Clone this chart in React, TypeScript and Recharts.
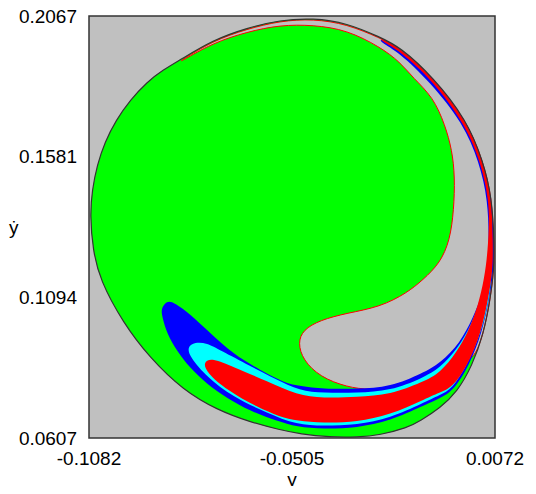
import React from "react";
import { ComposedChart, Scatter, XAxis, YAxis, ReferenceArea } from "recharts";

const xTicks = [-0.1082, -0.0505, 0.0072];
const yTicks = [0.0607, 0.1094, 0.1581, 0.2067];

type Pt = { x: number; y: number };
const pts = (a: number[][]): Pt[] => a.map(([x, y]) => ({ x, y }));

// boundary of the region that was sampled (black curve)
const outerEdge = pts([
  [-0.1079, 0.1379], [-0.1073, 0.1465], [-0.1059, 0.1551], [-0.1037, 0.1631], [-0.1005, 0.1707],
  [-0.0965, 0.1776], [-0.0917, 0.1839], [-0.0872, 0.188], [-0.0823, 0.1915], [-0.073, 0.1984],
  [-0.0633, 0.2026], [-0.0539, 0.2053], [-0.0445, 0.206], [-0.0349, 0.2043], [-0.0255, 0.1994],
  [-0.0198, 0.196], [-0.0104, 0.1856], [-0.0008, 0.1707], [0.0038, 0.1565], [0.0063, 0.1441],
  [0.007, 0.1282], [0.0069, 0.1188], [0.0058, 0.1084], [0.004, 0.097], [0.0007, 0.0856],
  [-0.0036, 0.0766], [-0.0084, 0.0711], [-0.0141, 0.0666], [-0.0178, 0.0642], [-0.0255, 0.0617],
  [-0.032, 0.061], [-0.0397, 0.061], [-0.0482, 0.0621], [-0.0539, 0.0635], [-0.0624, 0.0662],
  [-0.0718, 0.0704], [-0.0815, 0.0773], [-0.0909, 0.0884], [-0.0985, 0.1005], [-0.1051, 0.1154],
  [-0.1071, 0.1257],
]);

// grey basin: thin gap under the rim plus the tongue at lower right
const grayBasin = pts([
  [-0.0823, 0.1911], [-0.073, 0.1981], [-0.0633, 0.2022], [-0.0539, 0.205], [-0.0445, 0.2057],
  [-0.0349, 0.2039], [-0.0255, 0.1991], [-0.0198, 0.1956], [-0.0104, 0.1853], [-0.0008, 0.1704],
  [0.0038, 0.1565], [0.0063, 0.1441], [0.0069, 0.1282], [0.0069, 0.1188], [0.0058, 0.1084],
  [0.004, 0.097], [0.0007, 0.0856], [-0.0084, 0.0866], [-0.0141, 0.0818], [-0.0218, 0.0783],
  [-0.0283, 0.0773], [-0.0349, 0.0783], [-0.0425, 0.0818], [-0.0474, 0.0877], [-0.0488, 0.0936],
  [-0.0474, 0.0981], [-0.0425, 0.1015], [-0.0349, 0.1039], [-0.0255, 0.106], [-0.0178, 0.1109],
  [-0.0133, 0.1154], [-0.0084, 0.1212], [-0.0056, 0.1292], [-0.0045, 0.1396], [-0.0042, 0.151],
  [-0.005, 0.1603], [-0.007, 0.169], [-0.0104, 0.1787], [-0.0161, 0.1853], [-0.0198, 0.1908],
  [-0.0255, 0.196], [-0.0349, 0.2019], [-0.0445, 0.2036], [-0.0539, 0.2036], [-0.0633, 0.2012],
  [-0.073, 0.1974], [-0.0823, 0.1908],
]);

const blueBand = pts([
  [-0.0866, 0.1074], [-0.0855, 0.1081], [-0.0838, 0.1074], [-0.0795, 0.1036], [-0.0738, 0.097],
  [-0.0673, 0.0898], [-0.0596, 0.0842], [-0.0525, 0.0797], [-0.0482, 0.0787], [-0.0417, 0.0777],
  [-0.032, 0.0777], [-0.0226, 0.0783], [-0.0133, 0.0832], [-0.0084, 0.0866], [-0.0027, 0.0936],
  [0.0009, 0.1022], [0.0038, 0.1109], [0.0049, 0.1188], [0.0055, 0.1282], [0.0052, 0.143],
  [0.0027, 0.1562], [-0.0019, 0.1697], [-0.0113, 0.1839], [-0.0201, 0.1942], [-0.0255, 0.1977],
  [-0.0255, 0.1991], [-0.0198, 0.1956], [-0.0104, 0.1853], [-0.0008, 0.1704], [0.0038, 0.1565],
  [0.0063, 0.1441], [0.0069, 0.1282], [0.0069, 0.1188], [0.0055, 0.1084], [0.0035, 0.097],
  [-0.0002, 0.0856], [-0.0047, 0.077], [-0.0084, 0.0745], [-0.0133, 0.0718], [-0.0226, 0.0666],
  [-0.032, 0.0642], [-0.0417, 0.0638], [-0.0491, 0.0645], [-0.0548, 0.0666], [-0.0624, 0.07],
  [-0.069, 0.0745], [-0.0747, 0.0794], [-0.0795, 0.0849], [-0.0832, 0.0908], [-0.086, 0.0967],
  [-0.0874, 0.1026], [-0.0877, 0.1053],
]);

const cyanBand = pts([
  [-0.0803, 0.0922], [-0.0781, 0.0939], [-0.0747, 0.0936], [-0.071, 0.0911], [-0.0624, 0.0856],
  [-0.0553, 0.0811], [-0.0482, 0.077], [-0.0417, 0.0763], [-0.032, 0.0763], [-0.0226, 0.077],
  [-0.0133, 0.0815], [-0.0084, 0.0849], [-0.0033, 0.0918], [0.0004, 0.0998], [0.0032, 0.1084],
  [0.0046, 0.1171], [0.0052, 0.1257], [0.0066, 0.1257], [0.0061, 0.1136], [0.0046, 0.1033],
  [0.0024, 0.0946], [-0.001, 0.0853], [-0.005, 0.0777], [-0.0084, 0.0756], [-0.0133, 0.0728],
  [-0.0226, 0.0676], [-0.032, 0.0652], [-0.0417, 0.0649], [-0.0491, 0.0652], [-0.0576, 0.0694],
  [-0.0673, 0.0749], [-0.0747, 0.0818], [-0.0795, 0.0887],
]);

const redBand = pts([
  [-0.0758, 0.087], [-0.0732, 0.0884], [-0.0673, 0.0853], [-0.0576, 0.0804], [-0.0491, 0.0756],
  [-0.0417, 0.0745], [-0.032, 0.0749], [-0.0226, 0.0756], [-0.0133, 0.0801], [-0.0084, 0.0832],
  [-0.0036, 0.0905], [-0.0005, 0.0974], [0.0018, 0.1043], [0.0038, 0.1136], [0.0049, 0.1223],
  [0.0055, 0.1327], [0.0055, 0.143], [0.0032, 0.1558], [-0.0013, 0.1693], [-0.0107, 0.1846],
  [-0.0198, 0.1946], [-0.0255, 0.1984], [-0.0255, 0.1991], [-0.0198, 0.1956], [-0.0104, 0.1853],
  [-0.0008, 0.1704], [0.0038, 0.1565], [0.0063, 0.1441], [0.0066, 0.1282], [0.0066, 0.1188],
  [0.0052, 0.1084], [0.0032, 0.097], [-0.0005, 0.086], [-0.005, 0.078], [-0.0084, 0.0766],
  [-0.0133, 0.0738], [-0.0226, 0.0687], [-0.032, 0.0662], [-0.0417, 0.0659], [-0.0491, 0.0666],
  [-0.0539, 0.068], [-0.0605, 0.0714], [-0.069, 0.0773], [-0.0747, 0.0832],
]);

const layers = [
  { key: "green", data: outerEdge, fill: "#00ff00", stroke: "none", width: 0 },
  { key: "grey", data: grayBasin, fill: "#c0c0c0", stroke: "#ff0000", width: 1 },
  { key: "blue", data: blueBand, fill: "#0000ff", stroke: "none", width: 0 },
  { key: "cyan", data: cyanBand, fill: "#00ffff", stroke: "none", width: 0 },
  { key: "red", data: redBand, fill: "#ff0000", stroke: "none", width: 0 },
  { key: "edge", data: outerEdge, fill: "none", stroke: "#333333", width: 1.2 },
];

const noDot = () => <g />;
const fmt = (v: number) => v.toFixed(4);
const tickStyle = { fontSize: 19, fill: "#000" };

export default function App() {
  return (
    <div style={{ margin: -8, fontFamily: '"Liberation Sans", Arial, sans-serif' }}>
      <ComposedChart width={528} height={494} margin={{ top: 16, right: 33, bottom: 6, left: 8 }}>
        <XAxis
          type="number"
          dataKey="x"
          domain={[-0.1082, 0.0072]}
          ticks={xTicks}
          interval={0}
          tickFormatter={fmt}
          tick={tickStyle}
          tickLine={false}
          axisLine={false}
          tickMargin={8}
          height={50}
          allowDataOverflow
          label={{ value: "y", position: "insideBottom", offset: 2, fontSize: 19, fill: "#000" }}
        />
        <YAxis
          type="number"
          dataKey="y"
          domain={[0.0607, 0.2067]}
          ticks={yTicks}
          interval={0}
          tickFormatter={fmt}
          tick={tickStyle}
          tickLine={false}
          axisLine={false}
          tickMargin={6}
          width={81}
          allowDataOverflow
          label={{ value: "ẏ", position: "insideLeft", offset: 1, fontSize: 19, fill: "#000" }}
        />
        <ReferenceArea
          x1={-0.1082}
          x2={0.0072}
          y1={0.0607}
          y2={0.2067}
          fill="#c0c0c0"
          fillOpacity={1}
          stroke="#333333"
          strokeWidth={1.5}
          ifOverflow="visible"
        />
        {layers.map((l) => (
          <Scatter
            key={l.key}
            data={l.data}
            fill={l.fill}
            line={{ fill: l.fill, stroke: l.stroke, strokeWidth: l.width }}
            lineType="joint"
            lineJointType="basisClosed"
            shape={noDot}
            legendType="none"
            isAnimationActive={false}
          />
        ))}
      </ComposedChart>
    </div>
  );
}
